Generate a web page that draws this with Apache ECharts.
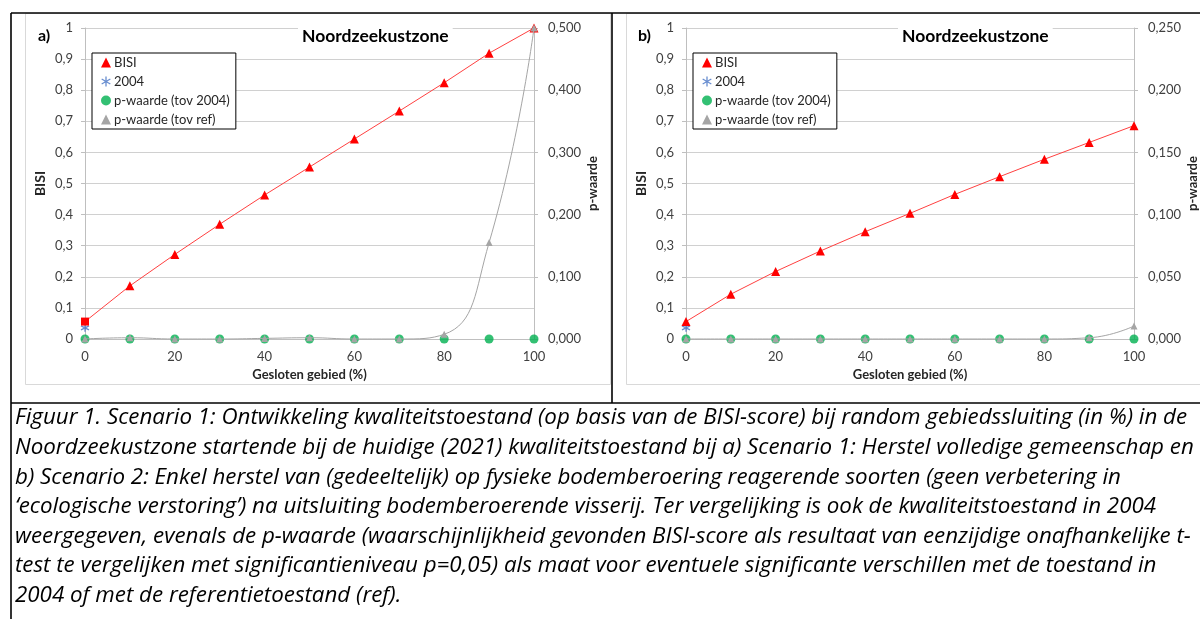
<!DOCTYPE html>
<html>
<head>
<meta charset="utf-8">
<script src="https://cdn.jsdelivr.net/npm/echarts@6/dist/echarts.min.js"></script>
<style>
html,body{margin:0;padding:0;background:#fff;}
#c{width:1200px;height:619px;}
</style>
</head>
<body>
<div id="c"></div>
<script>
// ---- data ----
const xValues = [0, 10, 20, 30, 40, 50, 60, 70, 80, 90, 100];
const bisiA = [0.056, 0.171, 0.272, 0.369, 0.463, 0.553, 0.643, 0.733, 0.824, 0.919, 1.0];
const bisiB = [0.056, 0.144, 0.217, 0.283, 0.345, 0.404, 0.465, 0.522, 0.578, 0.632, 0.686];
const bisi2004 = [[0, 0.036]];
const pTov2004A = [0, 0, 0, 0, 0, 0, 0, 0, 0, 0, 0];
const pTov2004B = [0, 0, 0, 0, 0, 0, 0, 0, 0, 0, 0];
const pTovRefA = [0, 0.002, 0, 0, 0.001, 0.002, 0, 0, 0.0076, 0.155, 0.5];
const pTovRefB = [0, 0, 0, 0, 0, 0, 0, 0, 0, 0.001, 0.0104];
const leftTickLabels = ['0', '0,1', '0,2', '0,3', '0,4', '0,5', '0,6', '0,7', '0,8', '0,9', '1'];
const rightTickLabelsA = ['0,000', '0,100', '0,200', '0,300', '0,400', '0,500'];
const rightTickLabelsB = ['0,000', '0,050', '0,100', '0,150', '0,200', '0,250'];
const xTickLabels = ['0', '20', '40', '60', '80', '100'];
const seriesNames = ['BISI', '2004', 'p-waarde (tov 2004)', 'p-waarde (tov ref)'];
const panelTitle = 'Noordzeekustzone';
const panelLabels = ['a)', 'b)'];
const xAxisTitle = 'Gesloten gebied (%)';
const captionLines = [
  'Figuur 1. Scenario 1: Ontwikkeling kwaliteitstoestand (op basis van de BISI-score) bij random gebiedssluiting (in %) in de',
  'Noordzeekustzone startende bij de huidige (2021) kwaliteitstoestand bij a) Scenario 1: Herstel volledige gemeenschap en',
  'b) Scenario 2: Enkel herstel van (gedeeltelijk) op fysieke bodemberoering reagerende soorten (geen verbetering in',
  '\u2018ecologische verstoring\u2019) na uitsluiting bodemberoerende visserij. Ter vergelijking is ook de kwaliteitstoestand in 2004',
  'weergegeven, evenals de p-waarde (waarschijnlijkheid gevonden BISI-score als resultaat van eenzijdige onafhankelijke t-',
  'test te vergelijken met significantieniveau p=0,05) als maat voor eventuele significante verschillen met de toestand in',
  '2004 of met de referentietoestand (ref).'
];

// ---- styles ----
const FONT = 'Lato, "Open Sans", sans-serif';
const CAP_FONT = '"Open Sans", Lato, sans-serif';
const RED = '#ff0000', BLUE = '#4472c4', GREEN = '#00b050', GRAY = '#a5a5a5';
const GRID_C = '#d0d0d0', AXIS_C = '#bfbfbf', LABEL_C = '#404040';
const ASTERISK = 'path://M5,0L5,10M0.67,2.5L9.33,7.5M0.67,7.5L9.33,2.5';

// caption font size fitted to the reference line width
const cv = document.createElement('canvas').getContext('2d');
cv.font = 'italic 20px ' + CAP_FONT;
const w1 = cv.measureText(captionLines[0]).width;
const capSize = Math.max(15, Math.min(24, 20 * 1172 / w1));

function pair(xs, ys) { return xs.map((x, i) => [x, ys[i]]); }

const chart = echarts.init(document.getElementById('c'), null, { renderer: 'canvas' });

const panels = [
  { left: 85, right: 666, bisi: bisiA, p04: pTov2004A, pref: pTovRefA, rmax: 0.5, rint: 0.1, rlabels: rightTickLabelsA, squareFirst: true, titleLeft: 298, legLeft: 92 },
  { left: 686, right: 65, bisi: bisiB, p04: pTov2004B, pref: pTovRefB, rmax: 0.25, rint: 0.05, rlabels: rightTickLabelsB, squareFirst: false, titleLeft: 898, legLeft: 693 }
];

const grid = [], xAxis = [], yAxis = [], series = [], title = [], legend = [];
panels.forEach((p, i) => {
  grid.push({ left: p.left, right: p.right, top: 28, bottom: 280, containLabel: false });
  xAxis.push({
    type: 'value', gridIndex: i, min: 0, max: 100, interval: 20,
    name: xAxisTitle, nameLocation: 'middle', nameGap: 29,
    nameTextStyle: { fontFamily: FONT, fontWeight: 'bold', fontSize: 13, color: '#262626' },
    axisLine: { show: true, onZero: false, lineStyle: { color: AXIS_C } },
    axisTick: { show: false },
    splitLine: { show: false },
    axisLabel: { margin: 11, fontFamily: FONT, fontSize: 13, color: LABEL_C,
      formatter: v => xTickLabels[Math.round(v / 20)] }
  });
  yAxis.push({
    type: 'value', gridIndex: i, min: 0, max: 1, interval: 0.1, position: 'left',
    name: 'BISI', nameLocation: 'middle', nameGap: 38, nameRotate: 90,
    nameTextStyle: { fontFamily: FONT, fontWeight: 'bold', fontSize: 14, color: '#262626' },
    axisLine: { show: true, lineStyle: { color: AXIS_C } },
    axisTick: { show: true, length: 4, lineStyle: { color: AXIS_C } },
    splitLine: { show: true, lineStyle: { color: GRID_C, width: 1 } },
    axisLabel: { margin: 12, fontFamily: FONT, fontSize: 13, color: LABEL_C,
      formatter: v => leftTickLabels[Math.round(v * 10)] }
  });
  yAxis.push({
    type: 'value', gridIndex: i, min: 0, max: p.rmax, interval: p.rint, position: 'right',
    name: 'p-waarde', nameLocation: 'middle', nameGap: 52, nameRotate: 90,
    nameTextStyle: { fontFamily: FONT, fontWeight: 'bold', fontSize: 13, color: '#262626' },
    axisLine: { show: true, lineStyle: { color: AXIS_C } },
    axisTick: { show: true, length: 4, lineStyle: { color: AXIS_C } },
    splitLine: { show: false },
    axisLabel: { margin: 14, fontFamily: FONT, fontSize: 13, color: LABEL_C,
      formatter: v => p.rlabels[Math.round(v / p.rint)] }
  });
  const bisiData = pair(xValues, p.bisi).map((d, k) =>
    (k === 0 && p.squareFirst) ? { value: d, symbol: 'rect', symbolSize: 8 } : d);
  series.push({
    name: seriesNames[0], type: 'line', xAxisIndex: i, yAxisIndex: 2 * i,
    data: bisiData, symbol: 'triangle', symbolSize: 9, showSymbol: true, clip: false,
    itemStyle: { color: RED }, lineStyle: { color: '#ff4040', width: 1 }, z: 3
  });
  series.push({
    name: seriesNames[1], type: 'scatter', xAxisIndex: i, yAxisIndex: 2 * i,
    data: bisi2004, symbol: ASTERISK, symbolSize: 8, clip: false,
    itemStyle: { color: 'rgba(0,0,0,0)', borderColor: BLUE, borderWidth: 1.3 }, z: 2
  });
  series.push({
    name: seriesNames[2], type: 'scatter', xAxisIndex: i, yAxisIndex: 2 * i + 1,
    data: pair(xValues, p.p04), symbol: 'circle', symbolSize: 9, clip: false,
    itemStyle: { color: GREEN }, z: 4
  });
  series.push({
    name: seriesNames[3], type: 'line', xAxisIndex: i, yAxisIndex: 2 * i + 1,
    data: pair(xValues, p.pref), symbol: 'triangle', symbolSize: 7, showSymbol: true, clip: false,
    smooth: 0.5, itemStyle: { color: GRAY }, lineStyle: { color: GRAY, width: 1 }, z: 5
  });
  title.push({
    text: panelTitle, left: p.titleLeft, top: 19, padding: [8, 4, 4, 4],
    backgroundColor: '#ffffff',
    textStyle: { fontFamily: FONT, fontWeight: 'bold', fontSize: 17.5, color: '#000' }
  });
  legend.push({
    orient: 'vertical', left: p.legLeft, top: 53, padding: [3, 6, 3, 9],
    itemWidth: 10, itemHeight: 10, itemGap: 6, selectedMode: false,
    backgroundColor: '#fff', borderColor: '#000', borderWidth: 1, borderRadius: 0,
    textStyle: { fontFamily: FONT, fontSize: 13, color: '#262626', lineHeight: 13, padding: [0, 0, 0, -2] },
    data: [
      { name: seriesNames[0], icon: 'triangle', itemStyle: { color: RED } },
      { name: seriesNames[1], icon: ASTERISK, itemStyle: { color: 'rgba(0,0,0,0)', borderColor: BLUE, borderWidth: 1.3 } },
      { name: seriesNames[2], icon: 'circle', itemStyle: { color: GREEN } },
      { name: seriesNames[3], icon: 'triangle', itemStyle: { color: GRAY } }
    ]
  });
});

const graphic = [
  // chart area frames
  { type: 'rect', shape: { x: 25.5, y: 13.5, width: 585, height: 371 }, style: { fill: 'none', stroke: '#d9d9d9', lineWidth: 1 }, z: -10 },
  { type: 'rect', shape: { x: 626.5, y: 13.5, width: 700, height: 371 }, style: { fill: 'none', stroke: '#d9d9d9', lineWidth: 1 }, z: -10 },
  // black table borders
  { type: 'line', shape: { x1: 11, y1: 13, x2: 1200, y2: 13 }, style: { stroke: '#000', lineWidth: 1.6 }, z: 20 },
  { type: 'line', shape: { x1: 11, y1: 13, x2: 11, y2: 619 }, style: { stroke: '#000', lineWidth: 1.6 }, z: 20 },
  { type: 'line', shape: { x1: 11, y1: 403, x2: 1200, y2: 403 }, style: { stroke: '#000', lineWidth: 1.6 }, z: 20 },
  { type: 'line', shape: { x1: 612, y1: 13, x2: 612, y2: 403 }, style: { stroke: '#000', lineWidth: 1.6 }, z: 20 },
  // panel labels
  { type: 'text', x: 38, y: 36, style: { text: panelLabels[0], font: 'bold 16px ' + FONT, fill: '#000', textVerticalAlign: 'middle' }, z: 20 },
  { type: 'text', x: 638, y: 36, style: { text: panelLabels[1], font: 'bold 16px ' + FONT, fill: '#000', textVerticalAlign: 'middle' }, z: 20 }
];
captionLines.forEach((t, k) => {
  graphic.push({
    type: 'text', x: 15, y: 418 + k * 29.6,
    style: { text: t, font: 'italic ' + capSize.toFixed(2) + 'px ' + CAP_FONT, fill: '#000', textVerticalAlign: 'middle', textAlign: 'left' },
    z: 20
  });
});

chart.setOption({
  animation: false,
  backgroundColor: '#ffffff',
  grid, xAxis, yAxis, series, title, legend, graphic
});
</script>
</body>
</html>
